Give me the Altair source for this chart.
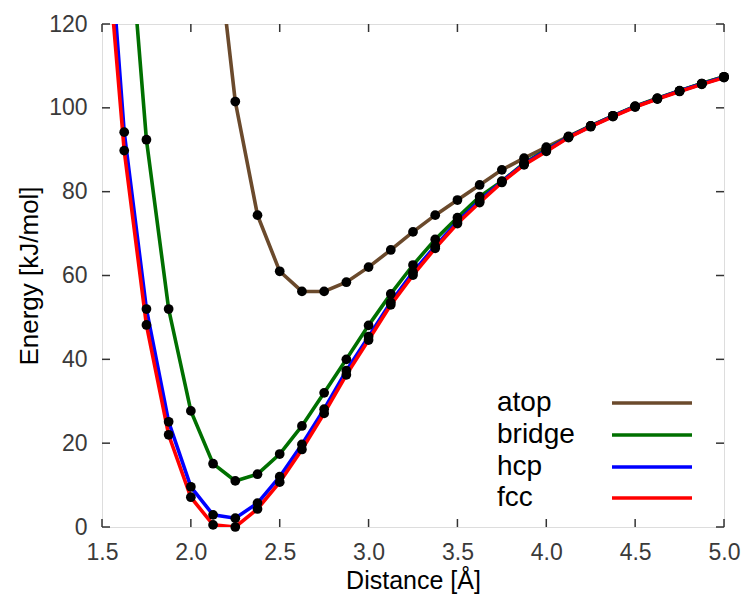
import altair as alt
import pandas as pd

# ---- data ----
distance = [1.5, 1.625, 1.75, 1.875, 2.0, 2.125, 2.25, 2.375, 2.5, 2.625, 2.75,
            2.875, 3.0, 3.125, 3.25, 3.375, 3.5, 3.625, 3.75, 3.875, 4.0, 4.125,
            4.25, 4.375, 4.5, 4.625, 4.75, 4.875, 5.0]

atop = [None, None, None, None, None, 148.0, 101.5, 74.4, 61.0, 56.2, 56.2,
        58.4, 62.0, 66.1, 70.4, 74.4, 78.0, 81.6, 85.2, 88.0, 90.6, 93.2,
        95.7, 98.1, 100.3, 102.2, 104.0, 105.8, 107.4]

bridge = [None, 158.0, 92.4, 52.0, 27.7, 15.1, 11.0, 12.6, 17.4, 24.1, 32.0,
          40.0, 48.1, 55.6, 62.5, 68.6, 73.8, 78.8, 82.5, 86.8, 90.0, 93.1,
          95.7, 98.1, 100.4, 102.3, 104.1, 105.8, 107.4]

hcp = [165.0, 94.2, 52.0, 25.1, 9.6, 2.9, 2.1, 5.7, 12.0, 19.7, 28.1,
       37.3, 45.4, 53.6, 60.8, 67.0, 72.8, 77.8, 82.4, 86.6, 89.8, 93.0,
       95.6, 98.0, 100.3, 102.2, 104.0, 105.7, 107.3]

fcc = [153.0, 89.8, 48.2, 22.0, 7.1, 0.5, 0.0, 4.3, 10.7, 18.5, 27.1,
       36.3, 44.6, 53.0, 60.1, 66.5, 72.4, 77.4, 82.2, 86.4, 89.6, 92.9,
       95.5, 97.9, 100.2, 102.1, 103.9, 105.6, 107.2]

sites = ["atop", "bridge", "hcp", "fcc"]
colors = ["#6b4a2c", "#007000", "#0000ff", "#ff0000"]

x_ticks = [1.5, 2.0, 2.5, 3.0, 3.5, 4.0, 4.5, 5.0]
y_ticks = [0, 20, 40, 60, 80, 100, 120]

# ---- build tables ----
rows = []
for name, vals in zip(sites, [atop, bridge, hcp, fcc]):
    for d, e in zip(distance, vals):
        if e is not None:
            rows.append({"site": name, "distance": d, "energy": e})
df = pd.DataFrame(rows)

W, H = 622, 503
FONT = "Liberation Sans"
TICK_COLOR = "#3a3a3a"

x_enc = alt.X("distance:Q",
              scale=alt.Scale(domain=[1.5, 5.0], nice=False, zero=False),
              axis=alt.Axis(values=x_ticks, format=".1f", title="Distance [Å]",
                            ticks=False, domain=False, grid=False, labelFlush=False,
                            labelFontSize=23, labelColor=TICK_COLOR, labelFont=FONT,
                            labelPadding=14, titleFontSize=25, titleFont=FONT,
                            titleFontWeight="normal", titleColor="#000000",
                            titlePadding=4))
y_enc = alt.Y("energy:Q",
              scale=alt.Scale(domain=[0, 120], nice=False),
              axis=alt.Axis(values=y_ticks, title="Energy [kJ/mol]",
                            ticks=False, domain=False, grid=False, labelFlush=False,
                            labelFontSize=23, labelColor=TICK_COLOR, labelFont=FONT,
                            labelPadding=15, titleFontSize=26, titleFont=FONT,
                            titleFontWeight="normal", titleColor="#000000",
                            titlePadding=6))

layers = []
# lines, one layer per series so that fcc is drawn last
for name, col in zip(sites, colors):
    layers.append(
        alt.Chart(df).transform_filter(alt.datum.site == name)
        .mark_line(color=col, strokeWidth=3.6, clip=True)
        .encode(x=x_enc, y=y_enc, order="distance:Q")
    )
# points (only those inside the plotted range; not clipped at the frame)
for name in sites:
    layers.append(
        alt.Chart(df).transform_filter(alt.datum.site == name)
        .transform_filter(alt.datum.energy <= 120)
        .mark_circle(color="#000000", opacity=1, size=95)
        .encode(x="distance:Q", y="energy:Q")
    )

# inward ticks (mirrored on all four sides)
xt = pd.DataFrame({"t": x_ticks})
yt = pd.DataFrame({"t": y_ticks})
tick_style = dict(color="#333333", strokeWidth=1.5)
layers.append(alt.Chart(xt).mark_rule(**tick_style).encode(
    x="t:Q", y=alt.value(H), y2=alt.value(H - 8)))
layers.append(alt.Chart(xt).mark_rule(**tick_style).encode(
    x="t:Q", y=alt.value(0), y2=alt.value(8)))
layers.append(alt.Chart(yt).mark_rule(**tick_style).encode(
    y="t:Q", x=alt.value(0), x2=alt.value(8)))
layers.append(alt.Chart(yt).mark_rule(**tick_style).encode(
    y="t:Q", x=alt.value(W), x2=alt.value(W - 8)))

# custom legend: label left, line sample right
leg_y = [379, 411, 443, 474]
for name, col, yy in zip(sites, colors, leg_y):
    ldf = pd.DataFrame({"site": [name]})
    layers.append(alt.Chart(ldf).mark_text(
        align="left", baseline="middle", fontSize=28, font=FONT, color="#000000"
    ).encode(text="site:N", x=alt.value(395), y=alt.value(yy)))
    layers.append(alt.Chart(ldf).mark_rule(color=col, strokeWidth=3.6).encode(
        x=alt.value(510), x2=alt.value(590), y=alt.value(yy)))

chart = alt.layer(*layers).properties(
    width=W, height=H,
    autosize=alt.AutoSizeParams(type="none"),
    padding={"left": 102, "top": 24, "right": 19, "bottom": 72},
).resolve_scale(x="shared", y="shared").configure_view(
    stroke="#333333", strokeWidth=1.5
).configure(background="#ffffff")

chart.save("out.html", embed_options={"renderer": "svg", "actions": False})
